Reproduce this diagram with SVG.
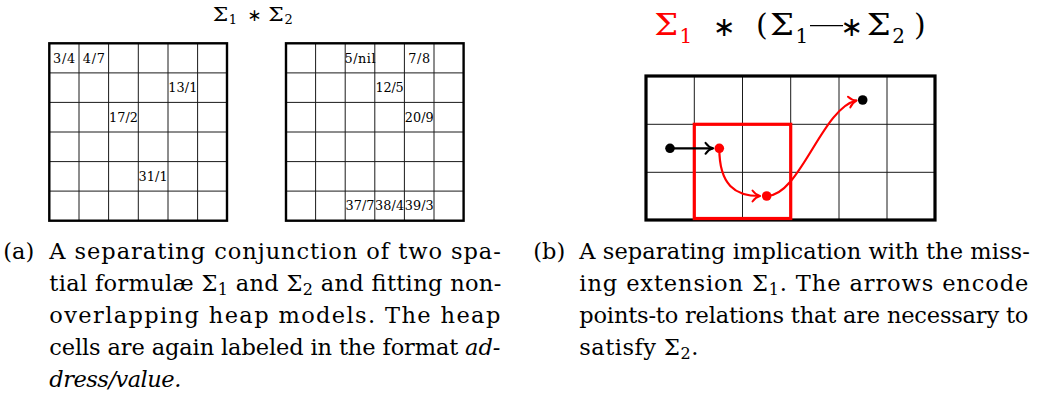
<svg xmlns="http://www.w3.org/2000/svg" width="1039" height="396" viewBox="0 0 1039 396">
<style>
.serif{font-family:'DejaVu Serif',serif}
.cap{font-family:'DejaVu Serif',serif;font-size:22.5px;fill:#000}
.lbl{font-family:'DejaVu Serif',serif;font-size:12.8px;fill:#000;text-anchor:middle}
.ast{font-family:'DejaVu Sans',sans-serif;text-anchor:middle}
.inner{fill:none;stroke:#1a1a1a;stroke-width:1}
.border{fill:none;stroke:#000;stroke-width:2.4}
.conn{fill:none;stroke-width:2.2;stroke-linecap:round}
.redtxt{fill:#ff0000}
</style>
<defs>
<marker id="tipBlack" markerUnits="userSpaceOnUse" markerWidth="12" markerHeight="14" refX="0" refY="0" viewBox="-10 -7 12 14" orient="auto" overflow="visible">
<path d="M-7.5,-5.5 C-5,-2 -2,-0.5 0,0 C-2,0.5 -5,2 -7.5,5.5" fill="none" stroke="#000" stroke-width="2" stroke-linecap="round"/>
</marker>
<marker id="tipRed" markerUnits="userSpaceOnUse" markerWidth="12" markerHeight="14" refX="0" refY="0" viewBox="-10 -7 12 14" orient="auto" overflow="visible">
<path d="M-7.5,-5.5 C-5,-2 -2,-0.5 0,0 C-2,0.5 -5,2 -7.5,5.5" fill="none" stroke="#ff0000" stroke-width="2" stroke-linecap="round"/>
</marker>
</defs>
<rect width="1039" height="396" fill="#fff"/>

<g id="title-a" fill="#000">
<text class="serif" x="212.7" y="20.7" font-size="18.5" textLength="15.5" lengthAdjust="spacingAndGlyphs">Σ</text>
<text class="serif" x="228.8" y="24.2" font-size="13">1</text>
<text class="ast" x="254.3" y="20.5" font-size="17">∗</text>
<text class="serif" x="268.3" y="20.7" font-size="18.5" textLength="15.5" lengthAdjust="spacingAndGlyphs">Σ</text>
<text class="serif" x="284.4" y="24.2" font-size="13">2</text>
</g>

<g id="heap-sigma1">
<path class="inner" d="M79,43.3V220.7M108.6,43.3V220.7M138.3,43.3V220.7M168,43.3V220.7M197.6,43.3V220.7M49.3,72.9H227M49.3,102.4H227M49.3,132H227M49.3,161.6H227M49.3,191.1H227"/>
<rect class="border" x="49.3" y="43.3" width="177.7" height="177.4"/>
<text class="lbl" x="64.1" y="62.6" textLength="22" lengthAdjust="spacing">3/4</text>
<text class="lbl" x="93.8" y="62.6" textLength="22" lengthAdjust="spacing">4/7</text>
<text class="lbl" x="182.8" y="92.2" textLength="29" lengthAdjust="spacing">13/1</text>
<text class="lbl" x="123.5" y="121.7" textLength="29" lengthAdjust="spacing">17/2</text>
<text class="lbl" x="153.1" y="180.9" textLength="29" lengthAdjust="spacing">31/1</text>
</g>

<g id="heap-sigma2">
<path class="inner" d="M315.6,43.3V220.7M345.2,43.3V220.7M374.8,43.3V220.7M404.4,43.3V220.7M434,43.3V220.7M286,72.9H463.6M286,102.4H463.6M286,132H463.6M286,161.6H463.6M286,191.1H463.6"/>
<rect class="border" x="286" y="43.3" width="177.6" height="177.4"/>
<text class="lbl" x="360" y="62.6" textLength="31" lengthAdjust="spacing">5/nil</text>
<text class="lbl" x="419.2" y="62.6" textLength="22" lengthAdjust="spacing">7/8</text>
<text class="lbl" x="389.6" y="92.2" textLength="28" lengthAdjust="spacing">12/5</text>
<text class="lbl" x="419.2" y="121.7" textLength="29" lengthAdjust="spacing">20/9</text>
<text class="lbl" x="360" y="210.4" textLength="29" lengthAdjust="spacing">37/7</text>
<text class="lbl" x="389.6" y="210.4" textLength="29" lengthAdjust="spacing">38/4</text>
<text class="lbl" x="419.2" y="210.4" textLength="29" lengthAdjust="spacing">39/3</text>
</g>

<g id="title-b" fill="#000">
<text class="serif redtxt" x="654.3" y="35" font-size="30" textLength="24" lengthAdjust="spacingAndGlyphs">Σ</text>
<text class="serif redtxt" x="679.5" y="42.7" font-size="20">1</text>
<text class="ast" x="724.2" y="36" font-size="27">∗</text>
<text class="serif" x="756" y="35" font-size="30">(</text>
<text class="serif" x="770" y="35" font-size="30" textLength="24" lengthAdjust="spacingAndGlyphs">Σ</text>
<text class="serif" x="795.5" y="42.7" font-size="20">1</text>
<line x1="810" y1="25.7" x2="843" y2="25.7" stroke="#000" stroke-width="1.3"/>
<text class="ast" x="851.7" y="36" font-size="27">∗</text>
<text class="serif" x="866.7" y="35" font-size="30" textLength="24" lengthAdjust="spacingAndGlyphs">Σ</text>
<text class="serif" x="892.3" y="42.7" font-size="20">2</text>
<text class="serif" x="914" y="35" font-size="30">)</text>
</g>

<g id="heap-ext">
<path class="inner" d="M694.3,76V220M742.5,76V220M790.7,76V220M839,76V220M887,76V220M646,124.3H935M646,172.3H935"/>
<rect fill="none" stroke="#000" stroke-width="3.2" x="646" y="76" width="289" height="144"/>
<rect id="sigma1-extension" fill="none" stroke="#ff0000" stroke-width="3.2" x="694.3" y="124.3" width="96.4" height="94.2"/>
</g>

<g id="connectors">
<path class="conn" stroke="#000" d="M670,148.3H713" marker-end="url(#tipBlack)"/>
<path class="conn" stroke="#ff0000" d="M719.3,148.3C719.3,185 735,196 760,196" marker-end="url(#tipRed)"/>
<path class="conn" stroke="#ff0000" d="M766.7,196C800,196 822,108 856.5,100.5" marker-end="url(#tipRed)"/>
</g>

<g id="cell-start"><circle cx="670" cy="148.3" r="4.8" fill="#000"/></g>
<g id="cell-x"><circle cx="719.3" cy="148.3" r="4.8" fill="#ff0000"/></g>
<g id="cell-y"><circle cx="766.7" cy="196" r="4.8" fill="#ff0000"/></g>
<g id="cell-end"><circle cx="862.7" cy="100" r="4.8" fill="#000"/></g>

<g id="caption-a">
<text class="cap" x="3.3" y="258.5">(a)</text>
<text class="cap" x="49.3" y="258.5" textLength="451.5" lengthAdjust="spacing">A separating conjunction of two spa-</text>
<text class="cap" x="49.3" y="290.7" textLength="452" lengthAdjust="spacing">tial formulæ Σ<tspan font-size="16" dy="4">1</tspan><tspan dy="-4"> and Σ</tspan><tspan font-size="16" dy="4">2</tspan><tspan dy="-4"> and fitting non-</tspan></text>
<text class="cap" x="49.3" y="322.9" textLength="451" lengthAdjust="spacing">overlapping heap models.  The heap</text>
<text class="cap" x="49.3" y="355.1" textLength="451" lengthAdjust="spacing">cells are again labeled in the format <tspan font-style="italic">ad-</tspan></text>
<text class="cap" x="49.3" y="387.3" font-style="italic" textLength="132" lengthAdjust="spacing">dress/value.</text>
</g>

<g id="caption-b">
<text class="cap" x="533.3" y="258.5">(b)</text>
<text class="cap" x="579.3" y="258.5" textLength="450.5" lengthAdjust="spacing">A separating implication with the miss-</text>
<text class="cap" x="579.3" y="290.7" textLength="449" lengthAdjust="spacing">ing extension Σ<tspan font-size="16" dy="4">1</tspan><tspan dy="-4">.  The arrows encode</tspan></text>
<text class="cap" x="579.3" y="322.9" textLength="449" lengthAdjust="spacing">points-to relations that are necessary to</text>
<text class="cap" x="579.3" y="355.1" textLength="119" lengthAdjust="spacing">satisfy Σ<tspan font-size="16" dy="4">2</tspan><tspan dy="-4">.</tspan></text>
</g>
</svg>
